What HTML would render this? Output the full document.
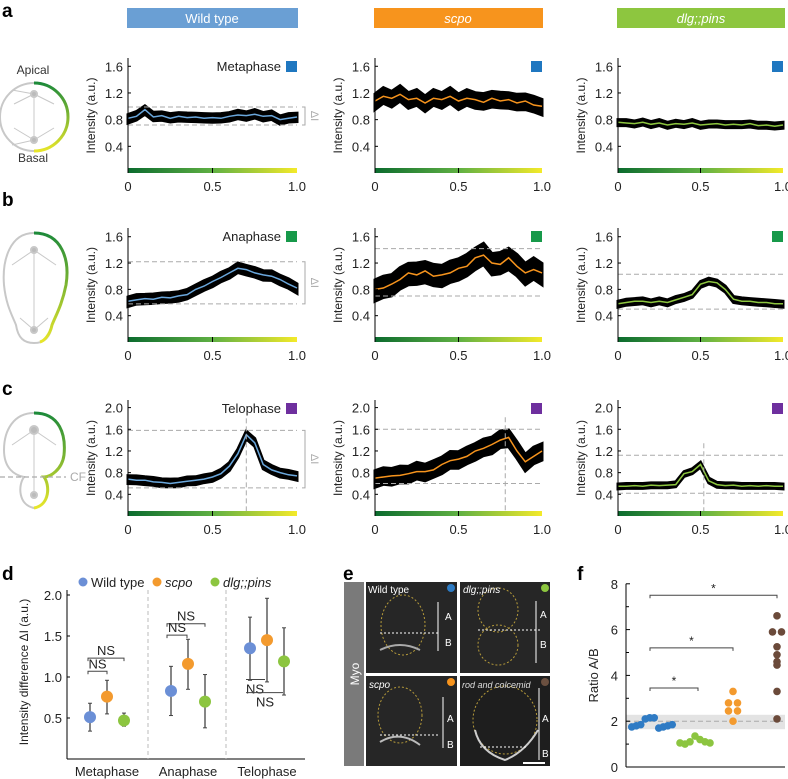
<!DOCTYPE html>
<html><head><meta charset="utf-8">
<style>
html,body{margin:0;padding:0;background:#fff;}
svg{display:block;font-family:"Liberation Sans",Arial,sans-serif;}
</style></head>
<body>
<svg id="fig" width="788" height="779" viewBox="0 0 788 779" xmlns="http://www.w3.org/2000/svg">
<defs>
<linearGradient id="gy" x1="0" x2="1" y1="0" y2="0"><stop offset="0" stop-color="#0b6b2e"/><stop offset="0.5" stop-color="#5fb043"/><stop offset="1" stop-color="#f4ea2a"/></linearGradient>
<linearGradient id="arcg" x1="0" x2="0" y1="0" y2="1"><stop offset="0" stop-color="#1d8a3a"/><stop offset="1" stop-color="#e8e62a"/></linearGradient>
</defs>
<g font-weight="bold" font-size="19" fill="#000">
<text x="2" y="17">a</text>
<text x="2" y="206">b</text>
<text x="2" y="395">c</text>
<text x="2" y="580">d</text>
<text x="343" y="580">e</text>
<text x="577" y="580">f</text>
</g>
<g>
<rect x="127" y="8" width="171" height="20" fill="#6a9fd4"/>
<text x="212" y="23" font-size="13" fill="#fff" text-anchor="middle">Wild type</text>
<rect x="374" y="8" width="169" height="20" fill="#f7941d"/>
<text x="458" y="23" font-size="13" fill="#fff" text-anchor="middle" font-style="italic">scpo</text>
<rect x="617" y="8" width="168" height="20" fill="#8dc63f"/>
<text x="701" y="23" font-size="13" fill="#fff" text-anchor="middle" font-style="italic">dlg;;pins</text>
</g>
<g stroke="#c8c8c8" fill="none" stroke-width="2">
<text x="33" y="74" font-size="12" fill="#333" stroke="none" text-anchor="middle">Apical</text>
<text x="33" y="162" font-size="12" fill="#333" stroke="none" text-anchor="middle">Basal</text>
<circle cx="34" cy="117" r="34"/>
<path d="M34 83 A34 34 0 0 1 34 151" stroke="url(#arcg)" stroke-width="3"/>
<g stroke-width="1"><line x1="34" y1="94" x2="34" y2="140"/><line x1="34" y1="94" x2="14" y2="104"/><line x1="34" y1="94" x2="54" y2="104"/><line x1="34" y1="140" x2="14" y2="128"/><line x1="34" y1="140" x2="54" y2="128"/><line x1="34" y1="94" x2="12" y2="90"/><line x1="34" y1="140" x2="12" y2="145"/></g>
<circle cx="34" cy="94" r="3" fill="#bbb"/><circle cx="34" cy="140" r="3" fill="#bbb"/>
</g>
<g stroke="#c8c8c8" fill="none" stroke-width="2">
<path d="M34 233 C62 233 70 260 66 285 C62 305 56 315 52 325 C50 340 42 343 34 343 C24 343 18 338 16 325 C12 315 6 305 4 285 C2 260 10 233 34 233Z"/>
<path d="M34 233 C62 233 70 260 66 285 C62 305 56 315 52 325 C50 335 44 341 40 342" stroke="url(#arcg)" stroke-width="3"/>
<g stroke-width="1"><line x1="34" y1="250" x2="34" y2="330"/><line x1="34" y1="250" x2="12" y2="265"/><line x1="34" y1="250" x2="56" y2="265"/><line x1="34" y1="330" x2="20" y2="318"/><line x1="34" y1="330" x2="48" y2="318"/></g>
<circle cx="34" cy="250" r="3" fill="#bbb"/><circle cx="34" cy="330" r="3" fill="#bbb"/>
</g>
<g stroke="#c8c8c8" fill="none" stroke-width="2">
<path d="M34 413 C60 413 66 435 64 455 C62 470 50 477 44 477 C50 485 50 505 34 508 C18 505 18 485 24 477 C14 475 4 468 4 450 C4 430 14 413 34 413Z"/>
<path d="M34 413 C60 413 66 435 64 455 C62 470 50 477 44 477 C50 485 50 505 34 508" stroke="url(#arcg)" stroke-width="3"/>
<g stroke-width="1"><line x1="34" y1="430" x2="34" y2="498"/><line x1="34" y1="430" x2="12" y2="445"/><line x1="34" y1="430" x2="56" y2="445"/></g>
<circle cx="34" cy="430" r="4" fill="#bbb"/><circle cx="34" cy="495" r="3" fill="#bbb"/>
<line x1="0" y1="477" x2="66" y2="477" stroke="#aaa" stroke-dasharray="5,3" stroke-width="1.2"/>
<text x="70" y="481" font-size="12" fill="#aaa" stroke="none">CF</text>
</g>
<g id="profiles"></g>
<g id="pd"></g>
<g>
<rect x="344" y="582" width="20" height="184" fill="#7a7a7a"/>
<text transform="translate(359,674) rotate(-90)" font-size="12" fill="#fff" text-anchor="middle">Myo</text>
<g>
<rect x="366" y="582" width="91" height="91" fill="#262626"/>
<ellipse cx="403" cy="625" rx="22" ry="30" fill="none" stroke="#b59a3a" stroke-dasharray="2,2"/>
<path d="M380 650 Q400 640 420 650" stroke="#aaa" stroke-width="2" fill="none"/>
<line x1="380" y1="633" x2="440" y2="633" stroke="#fff" stroke-dasharray="2,2"/>
<line x1="438" y1="602" x2="438" y2="651" stroke="#fff"/>
<text x="368" y="593" font-size="10" fill="#fff">Wild type</text>
<text x="445" y="620" font-size="10" fill="#fff">A</text><text x="445" y="646" font-size="10" fill="#fff">B</text>
<circle cx="451" cy="588" r="4" fill="#2d7bc4"/>
</g>
<g>
<rect x="460" y="582" width="90" height="91" fill="#262626"/>
<ellipse cx="498" cy="610" rx="20" ry="22" fill="none" stroke="#b59a3a" stroke-dasharray="2,2"/>
<ellipse cx="498" cy="645" rx="20" ry="20" fill="none" stroke="#b59a3a" stroke-dasharray="2,2"/>
<line x1="478" y1="630" x2="540" y2="630" stroke="#fff" stroke-dasharray="2,2"/>
<line x1="536" y1="601" x2="536" y2="663" stroke="#fff"/>
<text x="463" y="593" font-size="10" fill="#fff" font-style="italic">dlg;;pins</text>
<text x="540" y="618" font-size="10" fill="#fff">A</text><text x="540" y="648" font-size="10" fill="#fff">B</text>
<circle cx="545" cy="588" r="4" fill="#8dc63f"/>
</g>
<g>
<rect x="366" y="676" width="91" height="90" fill="#262626"/>
<ellipse cx="400" cy="715" rx="22" ry="28" fill="none" stroke="#b59a3a" stroke-dasharray="2,2"/>
<line x1="380" y1="735" x2="440" y2="735" stroke="#fff" stroke-dasharray="2,2"/>
<path d="M380 742 Q400 730 420 745" stroke="#bbb" stroke-width="2" fill="none"/>
<line x1="443" y1="697" x2="443" y2="748" stroke="#fff"/>
<text x="369" y="688" font-size="10" fill="#fff" font-style="italic">scpo</text>
<text x="447" y="722" font-size="10" fill="#fff">A</text><text x="447" y="748" font-size="10" fill="#fff">B</text>
<circle cx="451" cy="682" r="4" fill="#f7941d"/>
</g>
<g>
<rect x="460" y="676" width="90" height="90" fill="#1e1e1e"/>
<ellipse cx="505" cy="720" rx="32" ry="34" fill="none" stroke="#b59a3a" stroke-dasharray="2,2"/>
<path d="M475 730 Q480 752 505 760 Q525 752 538 730" stroke="#ccc" stroke-width="2" fill="none"/>
<line x1="480" y1="747" x2="528" y2="747" stroke="#fff" stroke-dasharray="2,2"/>
<line x1="539" y1="688" x2="539" y2="760" stroke="#fff"/>
<text x="462" y="688" font-size="9" fill="#ddd" font-style="italic">rod and colcemid</text>
<text x="542" y="722" font-size="10" fill="#fff">A</text><text x="542" y="757" font-size="10" fill="#fff">B</text>
<circle cx="545" cy="682" r="4" fill="#6b5040"/>
<line x1="523" y1="763" x2="545" y2="763" stroke="#fff" stroke-width="2"/>
</g>
</g>
<g id="pf"></g>
</svg>
<script>
const profX = [0,0.05,0.1,0.15,0.2,0.25,0.3,0.35,0.4,0.45,0.5,0.55,0.6,0.65,0.7,0.75,0.8,0.85,0.9,0.95,1.0];
const aWT   = [0.82,0.85,0.95,0.84,0.86,0.82,0.85,0.83,0.84,0.82,0.83,0.82,0.85,0.87,0.86,0.88,0.85,0.86,0.80,0.82,0.84];
const aScpo = [1.08,1.15,1.12,1.18,1.10,1.12,1.05,1.12,1.10,1.15,1.08,1.12,1.10,1.06,1.12,1.08,1.10,1.05,1.08,1.02,1.00];
const aDlg  = [0.76,0.75,0.74,0.76,0.73,0.75,0.72,0.74,0.73,0.75,0.72,0.73,0.74,0.72,0.73,0.72,0.74,0.71,0.72,0.70,0.72];
const bWT   = [0.62,0.64,0.66,0.65,0.68,0.67,0.70,0.72,0.80,0.85,0.92,0.98,1.05,1.12,1.10,1.05,1.02,1.00,0.95,0.88,0.82];
const bScpo = [0.80,0.82,0.88,0.95,1.05,1.02,1.08,1.00,1.02,1.05,1.12,1.15,1.28,1.32,1.20,1.18,1.28,1.15,1.05,1.10,1.05];
const bDlg  = [0.58,0.60,0.62,0.62,0.60,0.62,0.60,0.64,0.68,0.72,0.88,0.92,0.90,0.80,0.65,0.62,0.62,0.60,0.60,0.58,0.58];
const cWT   = [0.68,0.66,0.66,0.63,0.62,0.60,0.62,0.64,0.66,0.68,0.72,0.78,0.92,1.15,1.50,1.35,0.95,0.85,0.80,0.76,0.74];
const cScpo = [0.70,0.72,0.74,0.75,0.78,0.82,0.82,0.85,0.95,1.02,1.05,1.10,1.20,1.25,1.32,1.40,1.45,1.20,1.00,1.10,1.20];
const cDlg  = [0.55,0.55,0.56,0.55,0.57,0.56,0.57,0.58,0.78,0.82,0.95,0.65,0.58,0.56,0.57,0.55,0.56,0.55,0.56,0.55,0.55];
const bandHalf = [0.07,0.13,0.05,0.08,0.18,0.05,0.08,0.17,0.05];
const dashHi = [0.99,null,null,1.22,1.42,1.03,1.58,1.60,1.12];
const dashLo = [0.72,null,null,0.58,0.70,0.50,0.52,0.60,0.42];
const vLine  = [null,null,null,null,null,null,0.70,0.78,0.52];
const yTicksAB = [0.4,0.8,1.2,1.6];
const yTicksC  = [0.4,0.8,1.2,1.6,2.0];
const xTicks = [0,0.5,1.0];
const xTickLabels = ["0","0.5","1.0"];

const dGroups = ["Metaphase","Anaphase","Telophase"];
const dMeanWT = [0.51,0.83,1.35], dLoWT=[0.34,0.53,0.96], dHiWT=[0.68,1.13,1.73];
const dMeanSc = [0.76,1.16,1.45], dLoSc=[0.55,0.85,0.94], dHiSc=[0.96,1.46,1.96];
const dMeanDl = [0.47,0.70,1.19], dLoDl=[0.40,0.38,0.78], dHiDl=[0.56,1.03,1.60];
const dTicks = [0.5,1.0,1.5,2.0];

const fWT   = [1.75,1.80,1.85,2.10,2.15,2.15,1.70,1.75,1.80,1.85];
const fDlg  = [1.05,1.00,1.10,1.35,1.20,1.10,1.05];
const fScpo = [3.30,2.80,2.80,2.45,2.45,2.00];
const fRod  = [6.60,5.90,5.90,5.25,4.90,4.60,4.45,3.30,2.10];
const fTicks = [0,2,4,6,8];

const NS="http://www.w3.org/2000/svg";
function mk(parent,tag,attrs,text){const e=document.createElementNS(NS,tag);for(const k in attrs)e.setAttribute(k,attrs[k]);if(text!==undefined)e.textContent=text;parent.appendChild(e);return e;}

const series=[aWT,aScpo,aDlg,bWT,bScpo,bDlg,cWT,cScpo,cDlg];
const colX=[128,375,618], colW=[169,167,165];
const rows=[{zero:173,ppu:66.7,top:58,ticks:yTicksAB,leg:"Metaphase",legC:"#1f77c0"},
            {zero:342,ppu:65.8,top:228,ticks:yTicksAB,leg:"Anaphase",legC:"#17994a"},
            {zero:516,ppu:54.2,top:400,ticks:yTicksC,leg:"Telophase",legC:"#6e2f9e"}];
const lineC=["#6aa7dc","#f7941d","#8dc63f"];
const gP=document.getElementById('profiles');
for(let r=0;r<3;r++){for(let c=0;c<3;c++){
  const i=r*3+c,R=rows[r],x0=colX[c],w=colW[c];
  const sx=v=>x0+v*w, sy=v=>R.zero-v*R.ppu;
  const g=mk(gP,'g',{});
  
  
  const d=series[i];
  let up=d.map((v,k)=>sx(profX[k])+','+sy(v+bandHalf[i]*(k%2?1:0.8)).toFixed(1));
  let dn=d.map((v,k)=>sx(profX[k])+','+sy(v-bandHalf[i]*(k%2?0.8:1)).toFixed(1)).reverse();
  const band=mk(g,'polygon',{points:up.concat(dn).join(' '),fill:'#000',stroke:'#000','stroke-width':3,'stroke-linejoin':'miter'});
  
  
  const ln=mk(g,'polyline',{points:d.map((v,k)=>sx(profX[k])+','+sy(v).toFixed(1)).join(' '),fill:'none',stroke:lineC[c],'stroke-width':1.5});
  
  
  if(dashHi[i]!==null){
    mk(g,'line',{x1:x0,x2:x0+w,y1:sy(dashHi[i]),y2:sy(dashHi[i]),stroke:'#aaa','stroke-dasharray':'5,3'});
    mk(g,'line',{x1:x0,x2:x0+w,y1:sy(dashLo[i]),y2:sy(dashLo[i]),stroke:'#aaa','stroke-dasharray':'5,3'});
    if(c===0){
      const bx=x0+w+8;
      mk(g,'path',{d:`M${bx-3} ${sy(dashHi[i])} H${bx} V${sy(dashLo[i])} H${bx-3}`,fill:'none',stroke:'#aaa'});
      const t=mk(g,'text',{transform:`translate(${bx+6},${(sy(dashHi[i])+sy(dashLo[i]))/2}) rotate(90)`,'font-size':11,fill:'#aaa','text-anchor':'middle'},'ΔI');
      
      
    }
  }
  if(vLine[i]!==null) mk(g,'line',{x1:sx(vLine[i]),x2:sx(vLine[i]),y1:sy(dashHi[i])-12,y2:R.zero,stroke:'#aaa','stroke-dasharray':'5,3'});
  const cb=mk(g,'rect',{x:x0,y:R.zero-5,width:w,height:5,fill:'url(#gy)'});
  
  
  mk(g,'line',{x1:sx(0.5),x2:sx(0.5),y1:R.zero-5,y2:R.zero,stroke:'#000'});
  mk(g,'line',{x1:x0,x2:x0,y1:R.top,y2:R.zero,stroke:'#000'});
  R.ticks.forEach(t=>{mk(g,'line',{x1:x0,x2:x0+3,y1:sy(t),y2:sy(t),stroke:'#000'});
    mk(g,'text',{x:x0-5,y:sy(t)+5,'font-size':13,'text-anchor':'end',fill:'#222'},t.toFixed(1));});
  xTicks.forEach((t,k)=>mk(g,'text',{x:sx(t),y:R.zero+18,'font-size':13,'text-anchor':'middle',fill:'#222'},xTickLabels[k]));
  const yl=mk(g,'text',{transform:`translate(${x0-33},${(R.top+R.zero)/2}) rotate(-90)`,'font-size':12,'text-anchor':'middle',fill:'#222'},'Intensity (a.u.)');
  
  
  mk(g,'rect',{x:x0+w-11,y:R.top+3,width:11,height:11,fill:R.legC});
  if(c===0){const lt=mk(g,'text',{x:x0+w-16,y:R.top+13,'font-size':13,'text-anchor':'end',fill:'#222'},R.leg);
    
    }
}}

const gD=document.getElementById('pd');


const dx0=67, dZero=759, dPpu=82;
const dy=v=>dZero-v*dPpu;
const groupC=[107,188,267], offs=[-17,0,17];
const cols=["#6b8fd6","#f39a2e","#8cc540"];
mk(gD,'line',{x1:dx0,x2:dx0,y1:590,y2:dZero,stroke:'#000'});
mk(gD,'line',{x1:dx0,x2:305,y1:dZero,y2:dZero,stroke:'#000'});
dTicks.forEach(t=>{mk(gD,'line',{x1:dx0,x2:dx0+3,y1:dy(t),y2:dy(t),stroke:'#000'});
  mk(gD,'text',{x:dx0-5,y:dy(t)+5,'font-size':13,'text-anchor':'end',fill:'#222'},t.toFixed(1));});
const dyl=mk(gD,'text',{transform:'translate(28,672) rotate(-90)','font-size':12,'text-anchor':'middle',fill:'#222'},'Intensity difference ΔI (a.u.)');


[148,226].forEach(x=>mk(gD,'line',{x1:x,x2:x,y1:590,y2:dZero,stroke:'#bbb','stroke-dasharray':'4,3'}));
dGroups.forEach((n,k)=>mk(gD,'text',{x:groupC[k],y:776,'font-size':13,'text-anchor':'middle',fill:'#222'},n));
const dS=[[dMeanWT,dLoWT,dHiWT],[dMeanSc,dLoSc,dHiSc],[dMeanDl,dLoDl,dHiDl]];
dS.forEach((s,si)=>{s[0].forEach((m,k)=>{const x=groupC[k]+offs[si];
  mk(gD,'line',{x1:x,x2:x,y1:dy(s[1][k]),y2:dy(s[2][k]),stroke:'#444','stroke-width':1.3});
  mk(gD,'line',{x1:x-2,x2:x+2,y1:dy(s[1][k]),y2:dy(s[1][k]),stroke:'#444'});
  mk(gD,'line',{x1:x-2,x2:x+2,y1:dy(s[2][k]),y2:dy(s[2][k]),stroke:'#444'});
  const p=mk(gD,'circle',{cx:x,cy:dy(m),r:6,fill:cols[si]});
  
  });});
[["Wild type",83,false],["scpo",157,true],["dlg;;pins",215,true]].forEach((L,k)=>{
  mk(gD,'circle',{cx:L[1],cy:582,r:4.5,fill:cols[k]});
  const t=mk(gD,'text',{x:L[1]+8,y:587,'font-size':13,fill:'#222','font-style':L[2]?'italic':'normal'},L[0]);
  
  });
function bracket(g,x1,x2,y,lab,ly){mk(g,'path',{d:`M${x1} ${y+3} V${y} H${x2} V${y+3}`,fill:'none',stroke:'#444'});
  mk(g,'text',{x:(x1+x2)/2,y:ly,'font-size':13,'text-anchor':'middle',fill:'#222'},lab);}
bracket(gD,88,124,dy(1.23),'NS',dy(1.23)-3);
bracket(gD,88,107,dy(1.07),'NS',dy(1.07)-3);
bracket(gD,167,205,dy(1.65),'NS',dy(1.65)-3);
bracket(gD,167,187,dy(1.51),'NS',dy(1.51)-3);
mk(gD,'line',{x1:246,x2:265,y1:dy(0.97),y2:dy(0.97),stroke:'#444'});
mk(gD,'text',{x:255,y:dy(0.97)+14,'font-size':13,'text-anchor':'middle',fill:'#222'},'NS');
mk(gD,'line',{x1:246,x2:283,y1:dy(0.81),y2:dy(0.81),stroke:'#444'});
mk(gD,'text',{x:265,y:dy(0.81)+14,'font-size':13,'text-anchor':'middle',fill:'#222'},'NS');

const gF=document.getElementById('pf');


const fx0=626, fZero=767, fPpu=22.9;
const fy=v=>fZero-v*fPpu;
mk(gF,'rect',{x:fx0,y:fy(2.28),width:159,height:fy(1.65)-fy(2.28),fill:'#e3e3e3'});
mk(gF,'line',{x1:fx0,x2:785,y1:fy(2),y2:fy(2),stroke:'#aaa','stroke-dasharray':'5,3'});
mk(gF,'line',{x1:fx0,x2:fx0,y1:fy(8),y2:fZero,stroke:'#000'});
mk(gF,'line',{x1:fx0,x2:785,y1:fZero,y2:fZero,stroke:'#000'});
for(let t=1;t<8;t+=2) mk(gF,'line',{x1:fx0,x2:fx0+3,y1:fy(t),y2:fy(t),stroke:'#000'});
fTicks.forEach(t=>{mk(gF,'line',{x1:fx0,x2:fx0+4,y1:fy(t),y2:fy(t),stroke:'#000'});
  mk(gF,'text',{x:fx0-8,y:fy(t)+5,'font-size':13,'text-anchor':'end',fill:'#222'},String(t));});
const fyl=mk(gF,'text',{transform:`translate(598,${fy(4)}) rotate(-90)`,'font-size':13,'text-anchor':'middle',fill:'#222'},'Ratio A/B');


const fSets=[[fWT,652,"#2f7bc4",true],[fDlg,695,"#8cc540",true],[fScpo,733,"#f39a2e",false],[fRod,777,"#6b4a3a",false]];
fSets.forEach(S=>{const seen={};S[0].forEach((v,k)=>{
  let x;
  if(S[3]){x=S[1]+(k-(S[0].length-1)/2)*(S[1]===652?4.5:5);}
  else{const key=Math.round(v*10);const n=seen[key]||0;seen[key]=n+1;
    const dup=S[0].filter(q=>Math.round(q*10)===key).length;
    x=dup>1?S[1]+(n?4.5:-4.5):S[1];}
  const p=mk(gF,'circle',{cx:x,cy:fy(v),r:3.8,fill:S[2]});
  
  });});
function star(x1,x2,v){const y=fy(v);mk(gF,'path',{d:`M${x1} ${y+3} V${y} H${x2} V${y+3}`,fill:'none',stroke:'#444'});
  mk(gF,'text',{x:(x1+x2)/2,y:y-3,'font-size':12,'text-anchor':'middle',fill:'#222'},'*');}
star(650,698,3.45);star(650,733,5.2);star(650,777,7.5);
</script>
</body></html>
